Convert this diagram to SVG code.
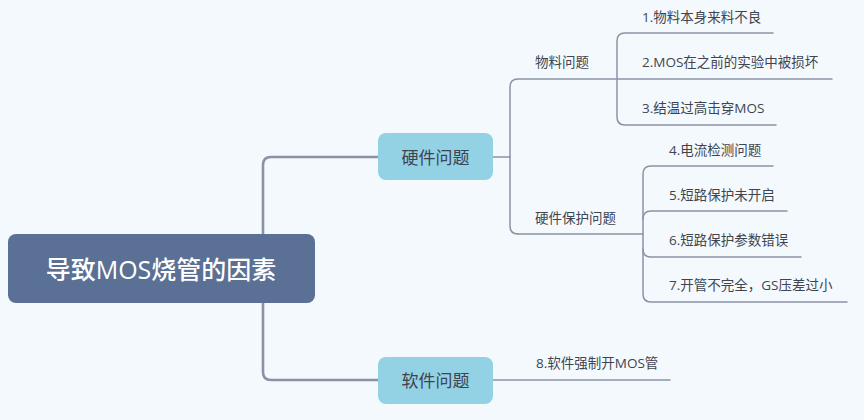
<svg xmlns="http://www.w3.org/2000/svg" width="864" height="420" viewBox="0 0 864 420">
<style>
text{font-family:"Open Sans","Noto Sans CJK SC",sans-serif;dominant-baseline:central}
.root{fill:#5a7094}
.rt{fill:#ffffff;font-size:25px;font-weight:500;text-anchor:middle}
.l1{fill:#93d1e5}
.t1{fill:#3d4450;font-size:17px;text-anchor:middle}
.t2{fill:#3f4550;font-size:13.5px}
.c0{fill:none;stroke:#8a93a5;stroke-width:2.6;stroke-linecap:round}
.c1{fill:none;stroke:#8a93a5;stroke-width:1.5;stroke-linecap:round}
</style>
<rect width="864" height="420" fill="#f4f9fd"/>
<g id="connectors">
<path class="c0" d="M263,234 V165 Q263,157 271,157 H378"/>
<path class="c0" d="M263,303 V372 Q263,380 271,380 H378"/>
<path class="c1" d="M493,157 H510"/>
<path class="c1" d="M518,234 Q510,234 510,226 V87 Q510,79 518,79 H832"/>
<path class="c1" d="M518,234 H643"/>
<path class="c1" d="M773,33 H625 Q617,33 617,41 V117 Q617,125 625,125 H776"/>
<path class="c1" d="M773,166 H651 Q643,166 643,174 V294 Q643,302 651,302 H847"/>
<path class="c1" d="M643,219 Q643,211 651,211 H787"/>
<path class="c1" d="M643,249 Q643,257 651,257 H801"/>
<path class="c1" d="M493,380 H670"/>
</g>
<g id="root"><rect class="root" x="8" y="234" width="307" height="69" rx="8"/><text class="rt" x="161" y="269">导致MOS烧管的因素</text></g>
<g id="hw"><rect class="l1" x="378" y="133" width="115" height="47" rx="8"/><text class="t1" x="435.5" y="157">硬件问题</text></g>
<g id="sw"><rect class="l1" x="378" y="357" width="115" height="47" rx="8"/><text class="t1" x="435.5" y="380">软件问题</text></g>
<g id="material"><text class="t2" x="535" y="62">物料问题</text></g>
<g id="hwprot"><text class="t2" x="535" y="218">硬件保护问题</text></g>
<g id="i1"><text class="t2" x="642" y="17">1.物料本身来料不良</text></g>
<g id="i2"><text class="t2" x="642" y="62">2.MOS在之前的实验中被损坏</text></g>
<g id="i3"><text class="t2" x="642" y="108">3.结温过高击穿MOS</text></g>
<g id="i4"><text class="t2" x="669" y="150">4.电流检测问题</text></g>
<g id="i5"><text class="t2" x="669" y="195">5.短路保护未开启</text></g>
<g id="i6"><text class="t2" x="669" y="240">6.短路保护参数错误</text></g>
<g id="i7"><text class="t2" x="669" y="285">7.开管不完全，GS压差过小</text></g>
<g id="i8"><text class="t2" x="536" y="363">8.软件强制开MOS管</text></g>
</svg>
